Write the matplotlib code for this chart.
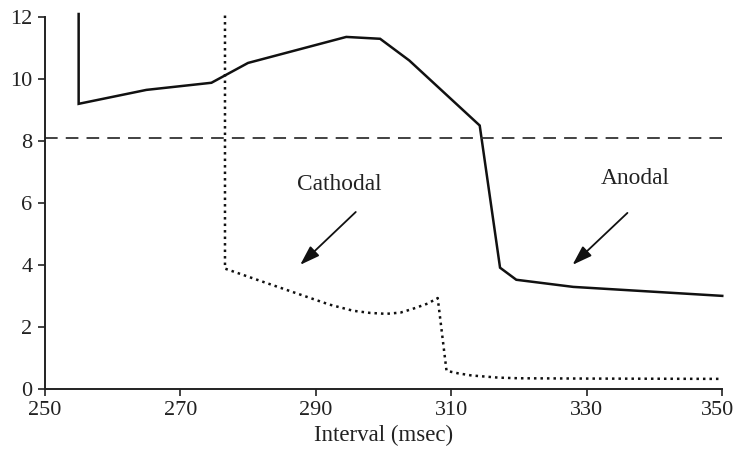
import matplotlib
matplotlib.use("Agg")
import matplotlib.pyplot as plt
import matplotlib.transforms as mtransforms

# Anodal threshold curve (solid)
anodal_x = [255, 255, 265, 274.6, 280, 294.5, 299.5, 303.8, 314.2, 317.2, 319.6, 328, 350]
anodal_y = [12.1, 9.2, 9.65, 9.88, 10.52, 11.36, 11.3, 10.6, 8.5, 3.91, 3.52, 3.29, 3.0]

# Cathodal threshold curve (dotted)
cathodal_x = [276.6, 276.6, 282, 287.6, 292, 295.5, 298, 300.4, 302.5, 304.3, 306.5, 308, 309.3, 311, 313, 317, 320, 330, 350]
cathodal_y = [12.05, 3.88, 3.47, 3.05, 2.72, 2.52, 2.45, 2.42, 2.46, 2.58, 2.75, 2.93, 0.58, 0.5, 0.43, 0.36, 0.34, 0.33, 0.32]

baseline = 8.1

plt.rcParams['font.family'] = ['Liberation Serif', 'DejaVu Serif']

fig = plt.figure(figsize=(7.34, 4.5), dpi=100)
ax = fig.add_axes([0.061, 0.136, 0.923, 0.826])

ax.plot(anodal_x, anodal_y, color='#111111', lw=1.8, solid_joinstyle='miter', clip_on=False)
ax.plot(cathodal_x, cathodal_y, color='#111111', lw=1.8, linestyle=(0, (1, 1.6)), clip_on=False)
ax.axhline(baseline, color='#333333', lw=1.3, linestyle=(0, (7, 4.5)))

arrow = dict(arrowstyle='-|>,head_length=1.2,head_width=0.4', color='#111111', lw=1.3)
ax.annotate('', xy=(287.4, 3.94), xytext=(296.2, 5.77), arrowprops=arrow)
ax.annotate('', xy=(327.6, 3.94), xytext=(336.3, 5.74), arrowprops=arrow)
ax.text(293.5, 6.58, 'Cathodal', ha='center', va='center', fontsize=16.8, color='#222222')
ax.text(337.2, 6.8, 'Anodal', ha='center', va='center', fontsize=16.8, color='#222222')

ax.set_xlim(250, 350)
ax.set_ylim(0, 12)
ax.set_xticks([250, 270, 290, 310, 330, 350])
ax.set_yticks([0, 2, 4, 6, 8, 10, 12])
ax.set_xlabel('Interval (msec)', fontsize=16.5, labelpad=3, color='#222222')

for s in ['top', 'right']:
    ax.spines[s].set_visible(False)
for s in ['left', 'bottom']:
    ax.spines[s].set_linewidth(1.4)
    ax.spines[s].set_color('#222222')
ax.tick_params(direction='out', length=5, width=1.2, labelsize=16, colors='#222222')
ax.tick_params(axis='x', pad=4)
ax.tick_params(axis='y', pad=4)

# keep the last x label inside the canvas, as in the reference
last = ax.get_xticklabels()[-1]
last.set_transform(last.get_transform() + mtransforms.ScaledTranslation(-5 / 100, 0, fig.dpi_scale_trans))

fig.savefig('out.png', dpi=100)
